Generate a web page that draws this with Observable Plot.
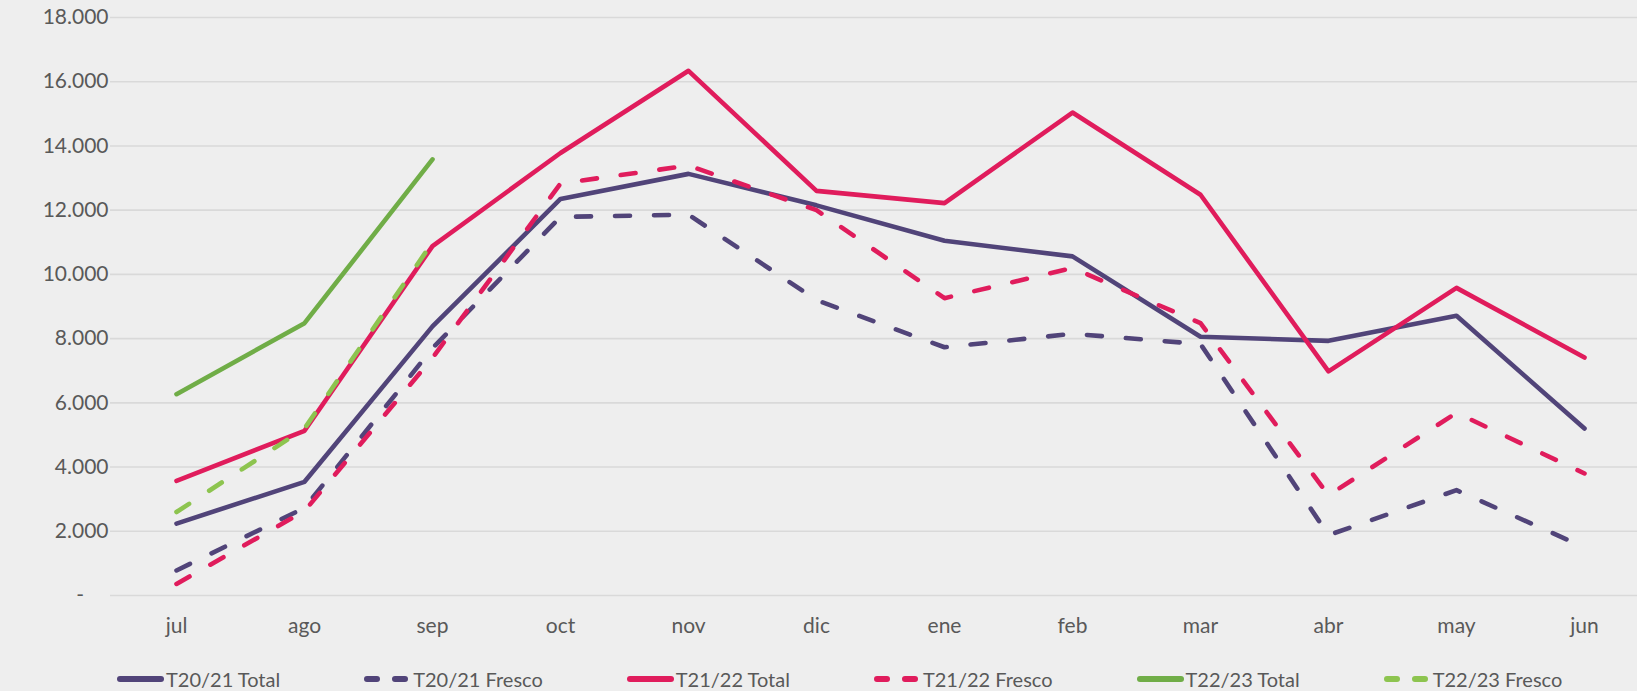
<!DOCTYPE html>
<html>
<head>
<meta charset="utf-8">
<script src="https://cdn.jsdelivr.net/npm/d3@7"></script>
<script src="https://cdn.jsdelivr.net/npm/@observablehq/plot@0.6"></script>
<style>
  html, body { margin: 0; padding: 0; background: #EEEEEE; }
  body { width: 1637px; height: 691px; overflow: hidden; font-family: Lato, "Open Sans", sans-serif; }
  #legend { display: flex; align-items: center; gap: 84px; margin-left: 117px; height: 30px; margin-top: 4px; color: #595959; font-size: 20px; }
  .item { display: flex; align-items: center; gap: 2px; white-space: nowrap; }
  .item svg { display: block; }
</style>
</head>
<body>
<div id="chart"></div>
<div id="legend"></div>
<script>
const months = ["jul","ago","sep","oct","nov","dic","ene","feb","mar","abr","may","jun"];
const seriesNames = ["T20/21 Total","T20/21 Fresco","T21/22 Total","T21/22 Fresco","T22/23 Total","T22/23 Fresco"];

const t2021Total  = [2240, 3540, 8380, 12350, 13130, 12150, 11050, 10560, 8060, 7930, 8710, 5200];
const t2021Fresco = [780, 2730, 7700, 11790, 11860, 9200, 7730, 8150, 7830, 1880, 3280, 1500];
const t2122Total  = [3570, 5130, 10880, 13780, 16340, 12600, 12220, 15040, 12480, 6980, 9580, 7410];
const t2122Fresco = [360, 2630, 7400, 12830, 13390, 12000, 9260, 10200, 8480, 3120, 5690, 3800];
const t2223Total  = [6270, 8480, 13580];
const t2223Fresco = [2600, 5200, 11000];

const seriesValues = [t2021Total, t2021Fresco, t2122Total, t2122Fresco, t2223Total, t2223Fresco];
const yTicks = [0, 2000, 4000, 6000, 8000, 10000, 12000, 14000, 16000, 18000];

const colors = ["#514479", "#514479", "#E01C5C", "#E01C5C", "#70AD47", "#8DC44F"];
const dashed = [false, true, false, true, false, true];

const rows = [];
seriesNames.forEach((name, i) => {
  seriesValues[i].forEach((v, j) => rows.push({series: name, month: months[j], value: v, dashed: dashed[i]}));
});

const fmt = d => d === 0 ? "-\u2007\u2007" : d3.format(",")(d).replace(/,/g, ".");

const chart = Plot.plot({
  width: 1637,
  height: 660,
  marginLeft: 110,
  marginRight: 0,
  marginTop: 17,
  marginBottom: 65,
  style: { background: "#EEEEEE", fontFamily: "Lato, 'Open Sans', sans-serif", fontSize: "21px", color: "#595959" },
  x: { type: "point", domain: months, padding: 0.448, align: 0.557, label: null },
  y: { domain: [0, 18000], label: null },
  color: { domain: seriesNames, range: colors },
  marks: [
    Plot.gridY(yTicks, { stroke: "#D9D9D9", strokeOpacity: 1, strokeWidth: 1.6 }),
    Plot.axisY(yTicks, { tickSize: 0, tickPadding: 2, tickFormat: fmt, label: null, fill: "#595959" }),
    Plot.axisX({ tickSize: 0, tickPadding: 23, label: null, fill: "#595959" }),
    Plot.lineY(rows.filter(d => !d.dashed), {
      x: "month", y: "value", z: "series", stroke: "series",
      strokeWidth: 4.6, strokeLinecap: "round", strokeLinejoin: "round"
    }),
    Plot.lineY(rows.filter(d => d.dashed), {
      x: "month", y: "value", z: "series", stroke: "series",
      strokeWidth: 4.6, strokeLinecap: "round", strokeLinejoin: "round", strokeDasharray: "15,24"
    })
  ]
});
document.getElementById("chart").appendChild(chart);

const legend = document.getElementById("legend");
seriesNames.forEach((name, i) => {
  const item = document.createElement("div");
  item.className = "item";
  const sw = dashed[i]
    ? `<svg width="47" height="12"><line x1="3" y1="6" x2="44" y2="6" stroke="${colors[i]}" stroke-width="6" stroke-linecap="round" stroke-dasharray="10,18"/></svg>`
    : `<svg width="47" height="12"><line x1="3" y1="6" x2="44" y2="6" stroke="${colors[i]}" stroke-width="6" stroke-linecap="round"/></svg>`;
  item.innerHTML = sw + `<span>${name}</span>`;
  legend.appendChild(item);
});
</script>
</body>
</html>
